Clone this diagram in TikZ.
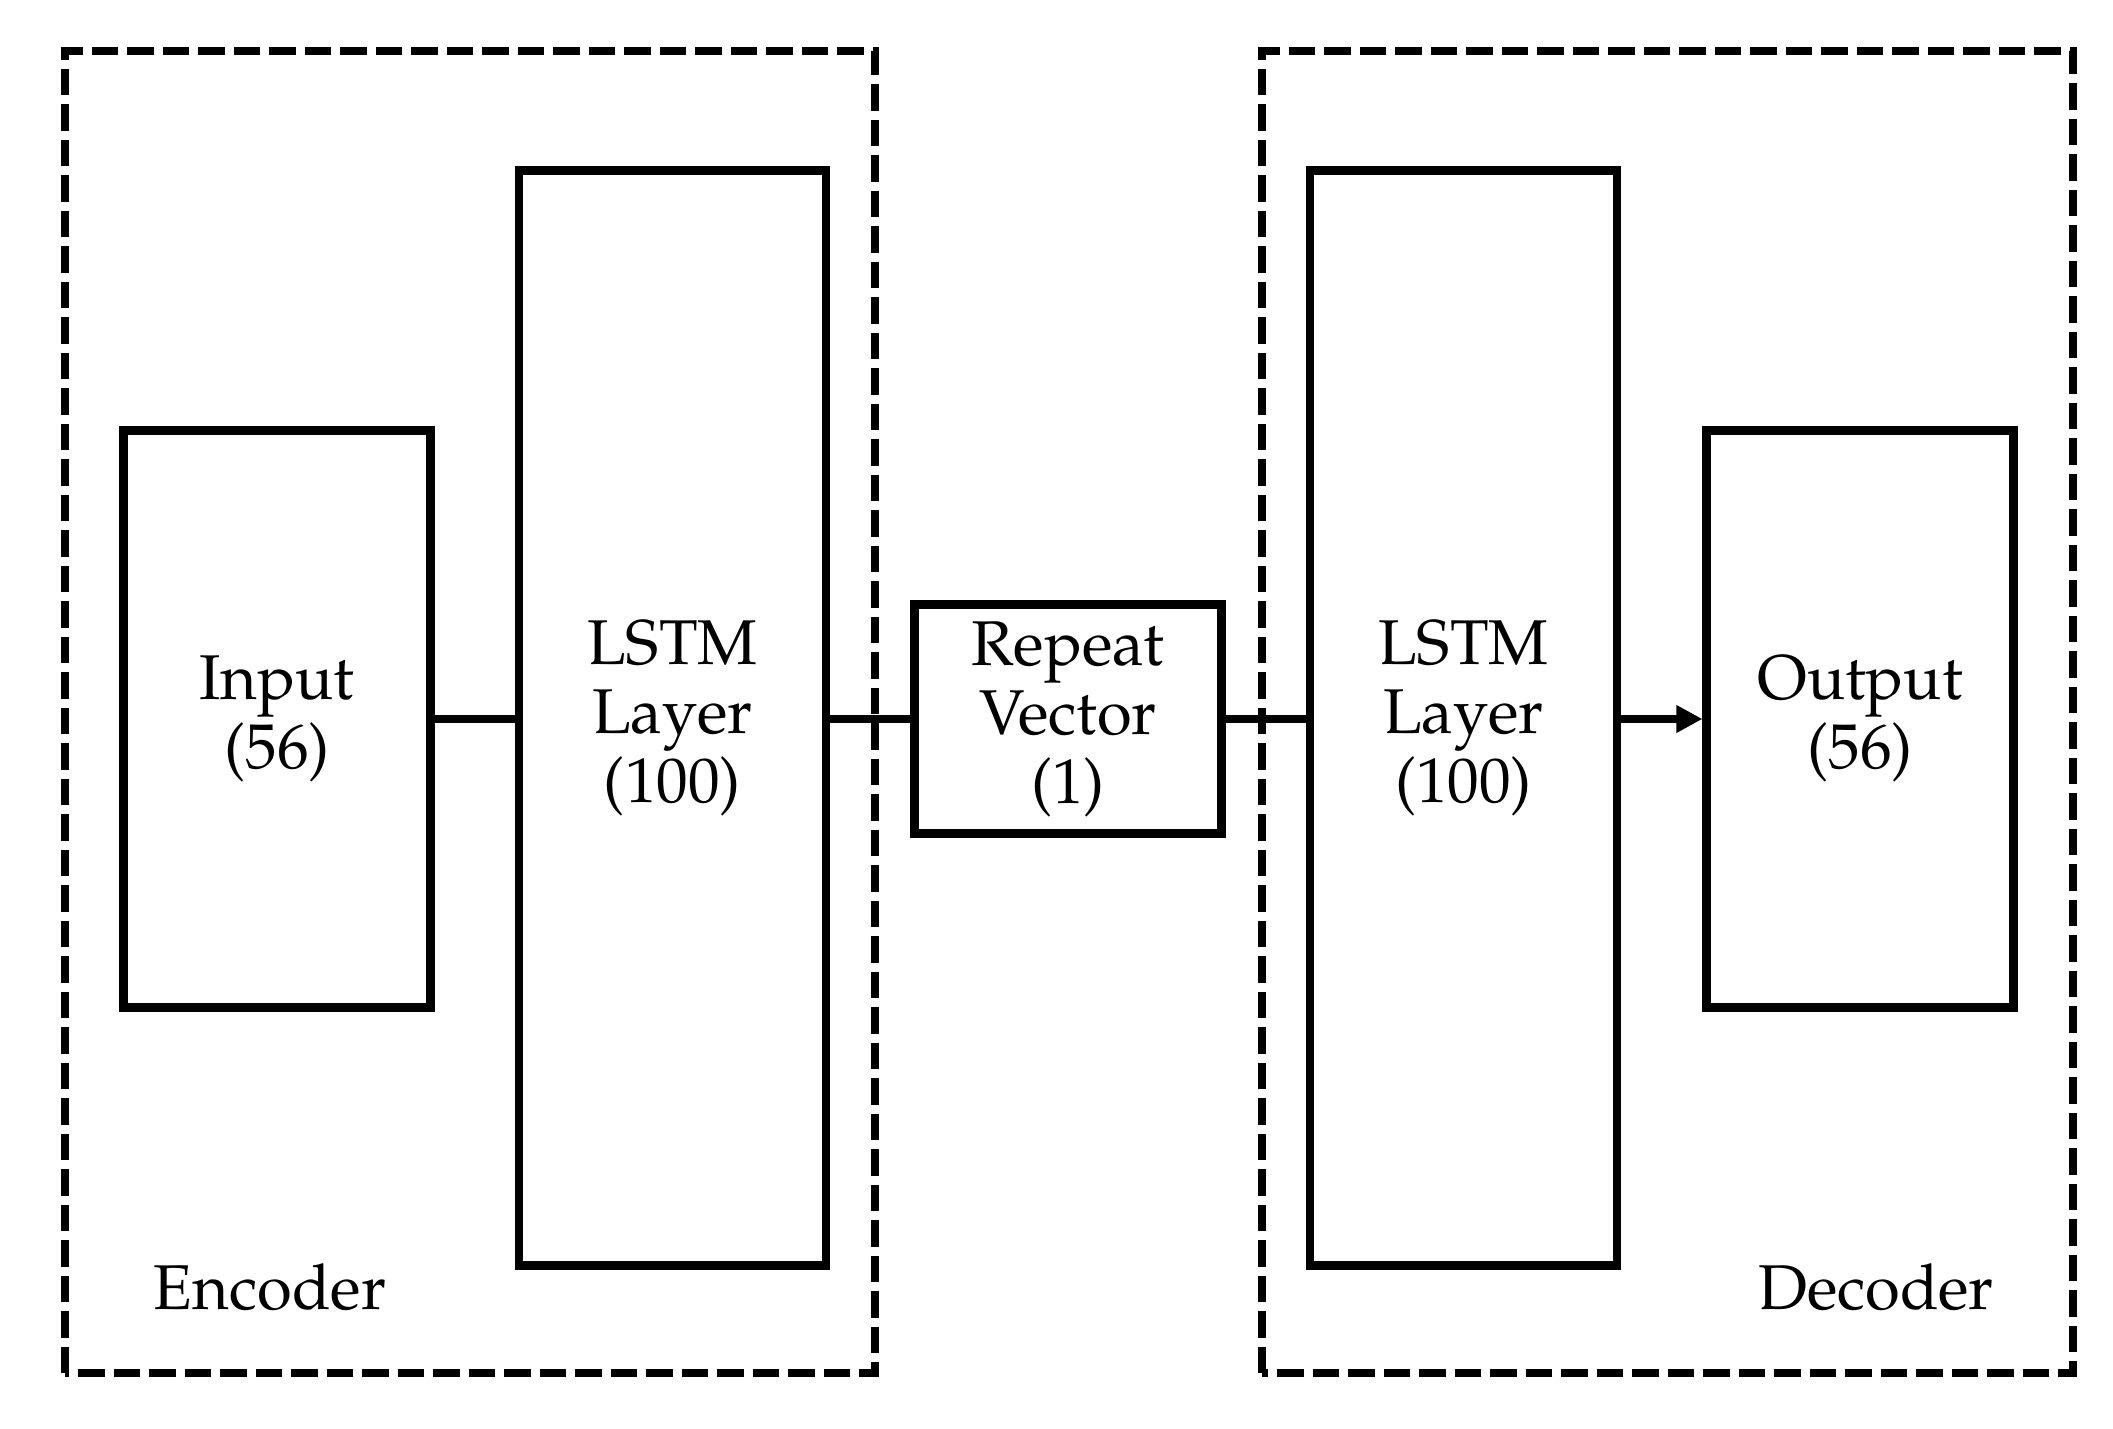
\documentclass[tikz,border=0pt]{standalone}
\usepackage[T1]{fontenc}
\usepackage{mathpazo}
\usepackage{tikz}
\usetikzlibrary{arrows.meta, calc, positioning}
\tikzset{
  layer/.style  = {draw, line width=2.3pt, rectangle, inner sep=0pt, align=center, minimum width=3.07cm},
  group/.style  = {draw, line width=2.3pt, dash pattern=on 7.5pt off 2.6pt},
  conn/.style   = {line width=2.3pt},
  arr/.style    = {-{Triangle[length=2.6mm, width=2.6mm]}, line width=2.3pt},
  lbl/.style    = {font=\fontsize{18}{19.6}\selectfont},
}

\begin{document}
\begin{tikzpicture}
  \useasboundingbox (0,0) rectangle (21.13,14.28);
  % encoder / decoder frames
  \draw[group] (0.65,0.55) rectangle (8.75,13.77);
  \draw[group] (12.62,0.55) rectangle (20.73,13.77);
  % layers
  \node[layer, lbl, minimum height=5.77cm]  (inp)     at (2.77,7.09)   {Input\\(56)};
  \node[layer, lbl, minimum height=10.95cm] (lstmenc) at (6.725,7.10)  {LSTM\\Layer\\(100)};
  \node[layer, lbl, minimum height=2.29cm]  (rep)     at (10.68,7.09)  {Repeat\\Vector\\(1)};
  \node[layer, lbl, minimum height=10.95cm] (lstmdec) at (14.635,7.10) {LSTM\\Layer\\(100)};
  \node[layer, lbl, minimum height=5.77cm]  (outp)    at (18.60,7.09)  {Output\\(56)};
  % connections
  \draw[conn] (inp.east) -- (inp.east -| lstmenc.west);
  \draw[conn] (lstmenc.east |- rep.west) -- (rep.west);
  \draw[conn] (rep.east) -- (rep.east -| lstmdec.west);
  \draw[arr] (lstmdec.east |- outp.west) -- (outp.west);
  % group labels
  \node[lbl] (enc) at (2.70,1.41)  {Encoder};
  \node[lbl] (dec) at (18.76,1.41) {Decoder};
\end{tikzpicture}
\end{document}
